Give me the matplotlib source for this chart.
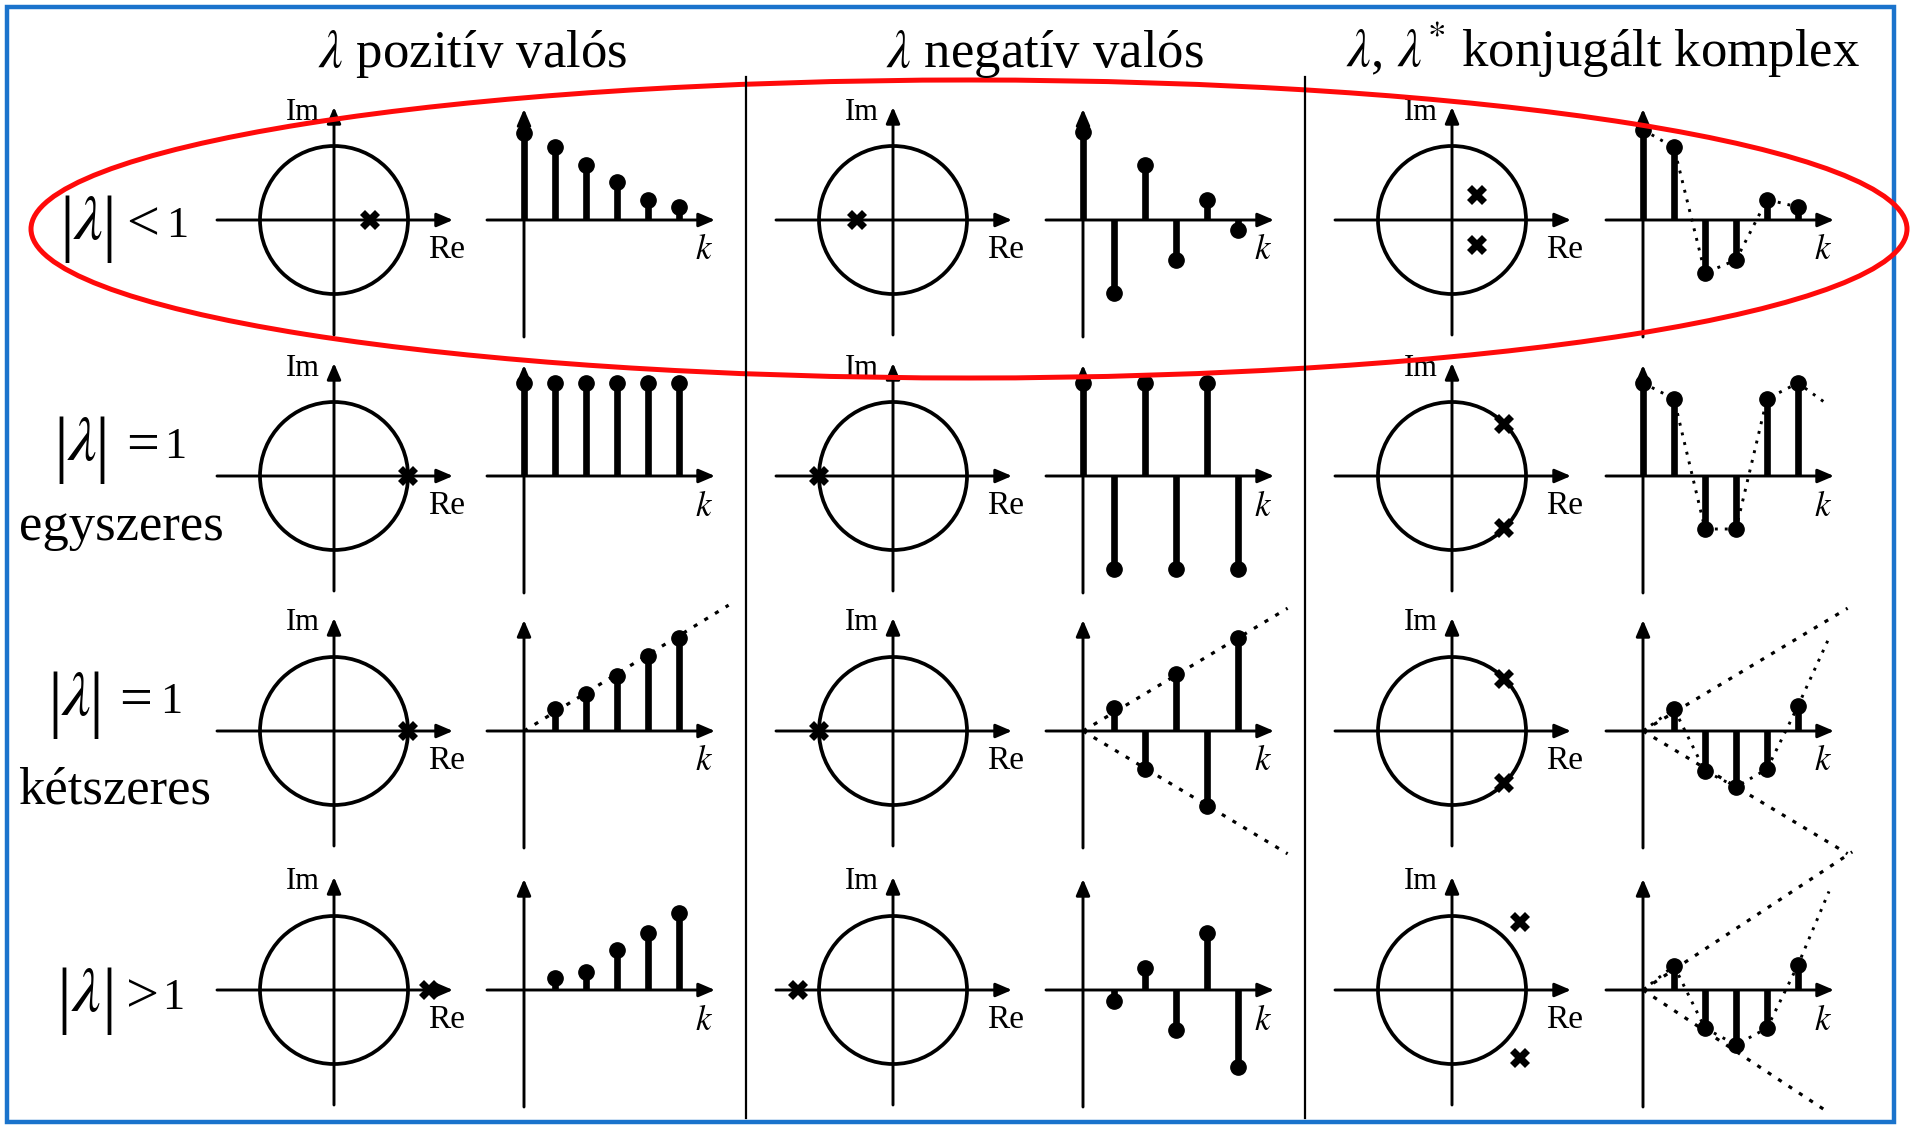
import numpy as np
import matplotlib
matplotlib.use("Agg")
import matplotlib.pyplot as plt
from matplotlib.patches import Circle, Ellipse, Rectangle

plt.rcParams["font.family"] = ["Liberation Serif", "DejaVu Serif"]
plt.rcParams["mathtext.fontset"] = "stix"

W, H = 1910, 1127

# ---- text ---------------------------------------------------------------
col_titles = [r"$\lambda$ pozitív valós",
              r"$\lambda$ negatív valós",
              r"$\lambda$, $\lambda^{*}$ konjugált komplex"]
row_relations = ["<", "=", "=", ">"]
row_bounds = ["1", "1", "1", "1"]
row_notes = ["", "egyszeres", "kétszeres", ""]

# ---- poles: |lambda| per row, direction (deg) per column ----------------
pole_mag = [0.48, 1.0, 1.0, 1.29]
pole_angle = [0.0, 180.0, 45.0]

# ---- impulse responses, k = 0..5 ----------------------------------------
k = np.arange(6)
resp_pos = [
    [0.94, 0.78, 0.59, 0.41, 0.22, 0.14],
    [1.0, 1.0, 1.0, 1.0, 1.0, 1.0],
    [0.0, 0.24, 0.40, 0.59, 0.81, 1.0],
    [0.0, 0.13, 0.19, 0.43, 0.61, 0.83],
]
resp_neg = [
    [0.95, -0.78, 0.59, -0.43, 0.22, -0.11],
    [1.0, -1.0, 1.0, -1.0, 1.0, -1.0],
    [0.0, 0.25, -0.41, 0.61, -0.81, 1.0],
    [0.0, -0.12, 0.24, -0.43, 0.61, -0.83],
]
resp_cplx = [
    [0.97, 0.78, -0.57, -0.43, 0.22, 0.14],
    [1.0, 0.83, -0.57, -0.57, 0.83, 1.0],
    [0.0, 0.24, -0.43, -0.60, -0.41, 0.27],
    [0.0, 0.26, -0.41, -0.59, -0.41, 0.27],
]
responses = [resp_pos, resp_neg, resp_cplx]

# dotted oscillation of the complex case continues past k = 5 to (k, value)
cplx_tail = [None, (5.95, 0.77), (6.0, 1.0), (6.0, 1.06)]

# dotted linear envelopes: (row, col) -> (slope per step, end k above, end k below)
envelopes = {
    (2, 0): (0.205, 6.6, None),
    (2, 1): (0.2, 6.6, 6.6),
    (2, 2): (0.2, 6.6, 6.6),
    (3, 2): (0.22, 6.75, 5.95),
}

# ---- layout in pixels ---------------------------------------------------
row_y = [220, 476, 731, 990]
pz_cx = [334, 893, 1452]
st_vx = [524, 1083, 1643]
R_PX, DK_PX, U_PX = 74.0, 31.0, 93.0

fig = plt.figure(figsize=(W / 100, H / 100), dpi=100)


def px_axes(x0, y0, w, h):
    ax = fig.add_axes([x0 / W, 1 - (y0 + h) / H, w / W, h / H])
    ax.axis("off")
    return ax


def arrow(ax, x0, y0, x1, y1, lw=2.1):
    ax.annotate("", xy=(x1, y1), xytext=(x0, y0), annotation_clip=False,
                arrowprops=dict(arrowstyle="-|>,head_length=0.75,head_width=0.32",
                                lw=lw, color="k", shrinkA=0, shrinkB=0,
                                mutation_scale=13))


dots_env = dict(color="k", lw=2.3, ls=(0, (1.3, 2.6)), clip_on=False)
dots_osc = dict(color="k", lw=2.1, ls=(0, (1.0, 2.4)), clip_on=False)

for r, cy in enumerate(row_y):
    for c in range(3):
        # ---------- pole diagram ----------
        half = 140
        ax = px_axes(pz_cx[c] - half, cy - half, 2 * half, 2 * half)
        lim = half / R_PX
        ax.set_xlim(-lim, lim)
        ax.set_ylim(-lim, lim)
        ax.add_patch(Circle((0, 0), 1.0, fill=False, ec="k", lw=2.7))
        arrow(ax, -117 / R_PX, 0, 119 / R_PX, 0)
        arrow(ax, 0, -115 / R_PX, 0, 113 / R_PX)
        ax.text(-14 / R_PX, 108 / R_PX, "Im", ha="right", va="center", fontsize=22)
        ax.text(113 / R_PX, -30 / R_PX, "Re", ha="center", va="center", fontsize=24)
        ang = np.deg2rad(pole_angle[c])
        m = pole_mag[r]
        if c < 2:
            px, py = [m * np.cos(ang)], [0.0]
        else:
            px = [m * np.cos(ang), m * np.cos(ang)]
            py = [m * np.sin(ang), -m * np.sin(ang)]
        ax.plot(px, py, ls="none", marker="X", ms=14.5, mew=0, color="k",
                clip_on=False, zorder=5)

        # ---------- impulse response ----------
        sx = px_axes(st_vx[c] - 50, cy - 130, 280, 260)
        sx.set_xlim(-50 / DK_PX, 230 / DK_PX)
        sx.set_ylim(-130 / U_PX, 130 / U_PX)
        arrow(sx, -37 / DK_PX, 0, 191 / DK_PX, 0)
        arrow(sx, 0, -117 / U_PX, 0, 111 / U_PX)
        sx.text(180 / DK_PX, -31 / U_PX, r"$k$", ha="center", va="center", fontsize=25)

        vals = np.asarray(responses[c][r])
        nz = vals != 0
        ml, sl, bl = sx.stem(k[nz], vals[nz], linefmt="k-", markerfmt="ko", basefmt="k-")
        sl.set_linewidth(4.8)
        ml.set_markersize(11)
        bl.set_visible(False)
        for a in (ml, sl):
            a.set_clip_on(False)

        if c == 2:
            kk = list(k.astype(float))
            vv = list(vals)
            if cplx_tail[r] is not None:
                kk.append(cplx_tail[r][0])
                vv.append(cplx_tail[r][1])
            sx.plot(kk, vv, **dots_osc)

        env = envelopes.get((r, c))
        if env is not None:
            slope, k_up, k_dn = env
            if k_up is not None:
                sx.plot([0, k_up], [0, slope * k_up], **dots_env)
            if k_dn is not None:
                sx.plot([0, k_dn], [0, -slope * k_dn], **dots_env)

# ---- overlay: titles, row labels, separators, frame, highlight ----------
ov = fig.add_axes([0, 0, 1, 1], zorder=10)
ov.set_xlim(0, W)
ov.set_ylim(H, 0)
ov.axis("off")

for x, t in zip([473, 1045, 1603], col_titles):
    ov.text(x, 67, t, ha="center", va="baseline", fontsize=38)

# row labels |lambda| <rel> 1 : (left bar x, lambda x, right bar x, rel x, "1" x, centre y)
label_pos = [
    (67, 88, 109, 126, 166, 229),
    (61, 82, 102, 126, 164, 450),
    (55, 76, 96, 119, 160, 705),
    (64, 86, 109, 126, 162, 1001),
]
for (b1, lx, b2, rx, ox, y), rel, one in zip(label_pos, row_relations, row_bounds):
    for bx in (b1, b2):
        ov.text(bx, y, "|", ha="center", va="center", fontsize=54, fontweight="light")
    ov.text(lx, y - 5, r"$\lambda$", ha="center", va="center", fontsize=46)
    ov.text(rx, y - 3, rel, ha="left", va="center", fontsize=42)
    ov.text(ox, y - 3, one, ha="left", va="center", fontsize=32)
for (nx, ny), note in zip([(121, 540), (115, 803)], row_notes[1:3]):
    ov.text(nx, ny, note, ha="center", va="baseline", fontsize=38)

for x in (746, 1305):
    ov.plot([x, x], [77, 1118], color="k", lw=1.6)

ov.add_patch(Rectangle((7, 7), 1887, 1115, fill=False, ec="#1a73cc", lw=3.2))
ov.add_patch(Ellipse((969, 229), 1876, 298, fill=False, ec="#ff0a0a", lw=3.6))

fig.savefig("out.png", dpi=100)
